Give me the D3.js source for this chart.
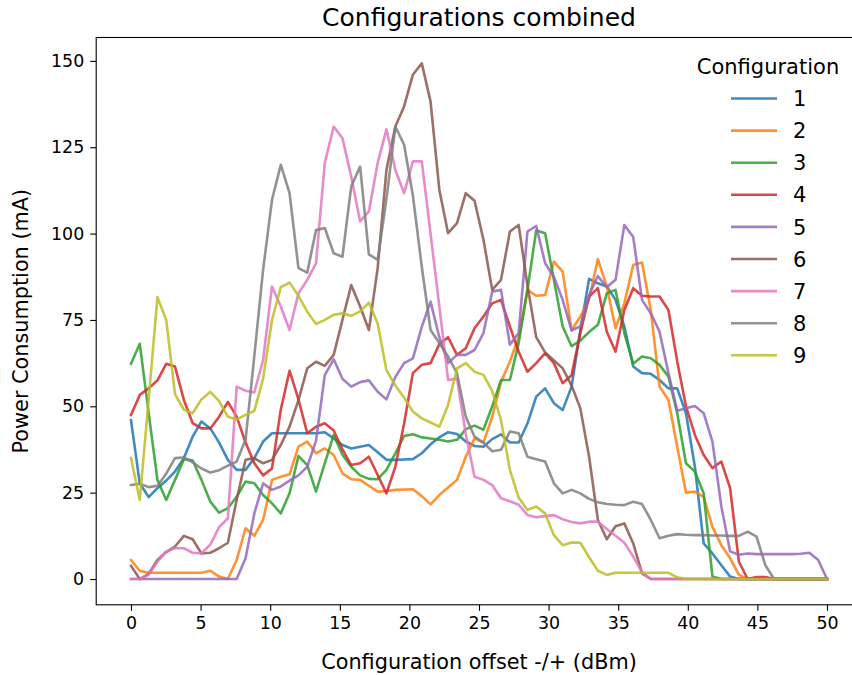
<!DOCTYPE html>
<html>
<head>
<meta charset="utf-8">
<script src="https://cdn.jsdelivr.net/npm/d3@7"></script>
<style>
  html, body { margin: 0; padding: 0; background: #ffffff; }
  svg { display: block; font-family: "DejaVu Sans", sans-serif; }
</style>
</head>
<body>
<svg id="chart" width="852" height="675"></svg>
<script>
// Offsets (dBm) at which each configuration was measured
const offsets = [0, 0.63, 1.27, 1.90, 2.53, 3.16, 3.80, 4.43, 5.06, 5.70, 6.33, 6.96, 7.59, 8.23, 8.86, 9.49,
  10.13, 10.76, 11.39, 12.03, 12.66, 13.29, 13.92, 14.56, 15.19, 15.82, 16.46, 17.09, 17.72, 18.35, 18.99, 19.62,
  20.25, 20.89, 21.52, 22.15, 22.78, 23.42, 24.05, 24.68, 25.32, 25.95, 26.58, 27.22, 27.85, 28.48, 29.11, 29.75,
  30.38, 31.01, 31.65, 32.28, 32.91, 33.54, 34.18, 34.81, 35.44, 36.08, 36.71, 37.34, 37.97, 38.61, 39.24, 39.87,
  40.51, 41.14, 41.77, 42.41, 43.04, 43.67, 44.30, 44.94, 45.57, 46.20, 46.84, 47.47, 48.10, 48.73, 49.37, 50.00];

// Power consumption (mA) per configuration
const config1 = [46, 27.7, 23.7, 26.3, 28.5, 31.1, 35, 41.2, 45.6, 43.6, 39.5, 34.5, 31.6, 31.6, 35, 39.8,
  42.2, 42.2, 42.2, 42.2, 42.2, 42.2, 42.5, 40.7, 38.8, 37.8, 38.3, 38.8, 36.7, 34.5, 34.5, 34.6,
  34.7, 36.4, 39, 41, 42.5, 42, 39.8, 38.5, 38.3, 40.5, 41.9, 39.5, 39.5, 45, 52.8, 55.2,
  50.9, 48.9, 55.7, 72, 86.9, 85.6, 84.7, 80.8, 73.1, 61.5, 59.6, 59.4, 57.6, 55.2, 55.2, 48,
  32.5, 10.3, 7.4, 4, 0.7, 0, 0, 0, 0, 0, 0, 0, 0, 0, 0, 0];
const config2 = [5.5, 2.4, 1.8, 1.8, 1.8, 1.8, 1.8, 1.8, 1.8, 2.4, 0.7, 0, 5.5, 14.7, 12.5, 17.1,
  28.7, 29.6, 30.3, 38.3, 39.8, 36.4, 37.8, 35.9, 30.6, 28.9, 28.7, 27, 25.3, 25.5, 25.8, 25.9,
  26, 24, 21.6, 24.3, 26.5, 28.7, 35.4, 40.7, 39.5, 47, 57, 63, 70, 83.7, 82, 82.2,
  91.9, 89, 72, 76, 81, 92.6, 84.7, 72.6, 79.8, 90.9, 91.6, 77.9, 55.7, 51.8, 38.3, 25,
  25.3, 23.8, 15.1, 9.8, 6, 1.2, 0, 0, 0, 0, 0, 0, 0, 0, 0, 0];
const config3 = [62.3, 68.1, 48, 28.7, 22.9, 28.7, 34.7, 34.3, 28.7, 22.4, 19.2, 20.5, 23.8, 28.2, 27.7, 24.3,
  21.9, 19, 24.8, 35.6, 33, 25.3, 33.5, 41.7, 36, 32.5, 30, 29, 28.9, 31.6, 36.4, 41.4,
  41.9, 41, 40.7, 40.3, 39.8, 40.3, 43.4, 44.4, 43.2, 50, 57.6, 57.6, 68.3, 83.7, 100.9, 100.1,
  86.6, 73.1, 67.4, 69, 71.5, 73.6, 82.7, 83.7, 71.2, 62.3, 64.4, 63.9, 62, 58.6, 48, 33.5,
  31.1, 24.8, 0.7, 0, 0, 0, 0, 0, 0, 0, 0, 0, 0, 0, 0, 0];
const config4 = [47.5, 53.3, 55.2, 57.5, 62.3, 61.5, 51.8, 45.1, 43.6, 43.6, 47, 51.3, 47, 39.5, 33.5, 30,
  32, 49, 60.3, 52, 42.2, 44.1, 45.1, 43, 37.5, 33, 33.5, 35.4, 30.1, 24.8, 32.5, 45,
  59.6, 62, 62.5, 68, 70, 64.9, 66.8, 72.6, 76, 79.8, 80.8, 73.1, 65.8, 60, 62.5, 65.4,
  62.5, 56.7, 59, 71.2, 81.8, 84.2, 71.6, 65.8, 77.9, 84.2, 82, 81.8, 81.8, 77.9, 63, 50,
  41.7, 35.9, 32.1, 34, 26.3, 5, 0, 0.6, 0.6, 0, 0, 0, 0, 0, 0, 0];
const config5 = [0, 0, 0, 0, 0, 0, 0, 0, 0, 0, 0, 0, 0, 6, 19, 27.7,
  25.8, 26.8, 28.5, 30, 32.5, 40, 59, 63.6, 58, 55.7, 57, 57.5, 54.2, 52, 58.5, 62.5,
  63.9, 73, 80.3, 70, 62.5, 64.9, 64.9, 66.3, 71.2, 83.2, 83.7, 67.8, 71.2, 100.6, 102.2, 91.4,
  87.5, 80.8, 72, 73.1, 82.2, 87.7, 84.5, 86.6, 102.5, 99, 80.8, 76.9, 71.6, 59.6, 48.7, 49.4,
  50.1, 48, 39.8, 21, 8, 7, 7.4, 7.2, 7.2, 7.2, 7.2, 7.2, 7.3, 7.6, 5.5, 0];
const config6 = [3.8, 0, 1.5, 5.5, 7.8, 9.4, 12.5, 11.5, 7.4, 7.6, 8.9, 10.5, 22.9, 34.5, 35, 33.5,
  34.5, 38.8, 44.1, 51.8, 61, 62.9, 61.7, 64.9, 75, 85.1, 78.9, 72.1, 90, 118.4, 131, 136.8,
  146, 149.3, 138.2, 112.7, 100.1, 103, 111.7, 109.5, 98.2, 83.7, 86.6, 100.6, 102.5, 85, 70, 65.6,
  63.3, 61, 56, 49.4, 35.4, 17.1, 11.5, 15.3, 16.1, 10.3, 1.6, 0, 0, 0, 0, 0,
  0, 0, 0, 0, 0, 0, 0, 0, 0, 0, 0, 0, 0, 0, 0, 0];
const config7 = [0, 0, 1.2, 5, 8, 8.9, 8.9, 7.6, 7.4, 10, 15, 17.6, 55.7, 54.5, 54, 63.4,
  84.7, 78.9, 72.1, 82.7, 86.6, 91.4, 120.4, 131, 127.6, 116.5, 103.5, 106.4, 120.4, 130.2, 118.4, 111.7,
  120.9, 120.9, 100, 79, 57.6, 58, 42, 29.6, 28.7, 27.2, 23.4, 22.5, 21.5, 18.5, 17.9, 18.2,
  18.5, 17.3, 16.5, 16.1, 16.6, 16.6, 14.5, 12.5, 10.5, 6.5, 2, 0, 0, 0, 0, 0,
  0, 0, 0, 0, 0, 0, 0, 0, 0, 0, 0, 0, 0, 0, 0, 0];
const config8 = [27.2, 27.6, 26.6, 27, 30.5, 35, 35.2, 33.8, 32, 30.8, 31.5, 32.8, 34, 40.3, 64.6, 89.5,
  109.8, 119.9, 111.7, 90, 88.7, 101, 101.6, 94.3, 93.3, 113.6, 119.4, 94, 92.4, 110, 131, 125.7,
  111, 90.4, 72.1, 68.3, 64.4, 59.6, 47, 41.2, 39.5, 37, 37.4, 42.7, 42.2, 35.4, 34.7, 34,
  27.7, 24.8, 25.8, 24.8, 23.2, 22.2, 21.7, 21.5, 21.4, 22.4, 21.7, 17.1, 11.8, 12.5, 13, 12.8,
  12.7, 12.7, 12.6, 12.6, 12.5, 12.5, 13.7, 12.3, 4, 0, 0, 0, 0, 0, 0, 0];
const config9 = [35, 22.9, 52, 81.6, 75, 53.5, 49, 48, 52, 54.2, 51.5, 47, 46.2, 47.5, 48.7, 58,
  75, 84.5, 85.8, 82, 77.4, 73.8, 75, 76.5, 76.9, 76.2, 77.5, 80, 74, 60.5, 56, 52.5,
  48.5, 46.5, 45.3, 44.1, 50.4, 61, 62.5, 60, 59.1, 54.5, 46, 31.6, 23.5, 20, 21, 19,
  12.7, 9.8, 10.6, 10.5, 6.3, 2.4, 1.2, 1.8, 1.8, 1.8, 1.8, 1.8, 1.8, 1.8, 0.5, 0,
  0, 0, 0, 0, 0, 0, 0, 0, 0, 0, 0, 0, 0, 0, 0, 0];

const configNames = ["1", "2", "3", "4", "5", "6", "7", "8", "9"];
const configValues = [config1, config2, config3, config4, config5, config6, config7, config8, config9];
const configColors = ["#1f77b4", "#ff7f0e", "#2ca02c", "#d62728", "#9467bd",
                      "#8c564b", "#e377c2", "#7f7f7f", "#bcbd22"];

const xTicks = [0, 5, 10, 15, 20, 25, 30, 35, 40, 45, 50];
const yTicks = [0, 25, 50, 75, 100, 125, 150];

const chartTitle = "Configurations combined";
const xTitle = "Configuration offset -/+ (dBm)";
const yTitle = "Power Consumption (mA)";
const legendTitle = "Configuration";

// ---- layout ----
const svg = d3.select("#chart");
const plot = { left: 96.2, right: 861.8, top: 37.5, bottom: 604.8 };

const xMin = d3.min(offsets), xMax = d3.max(offsets);
const xPad = (xMax - xMin) * 0.05;
const allValues = configValues.flat();
const yMin = d3.min(allValues), yMax = d3.max(allValues);
const yPad = (yMax - yMin) * 0.05;

const x = d3.scaleLinear().domain([xMin - xPad, xMax + xPad]).range([plot.left, plot.right]);
const y = d3.scaleLinear().domain([yMin - yPad, yMax + yPad]).range([plot.bottom, plot.top]);

const tickFont = 17.4;
const labelFont = 20.8;
const titleFont = 25;
const legendFont = 21;

// ---- axes ----
const xAxis = svg.append("g")
  .attr("transform", `translate(0,${plot.bottom})`)
  .call(d3.axisBottom(x).tickValues(xTicks).tickFormat(d3.format("d")).tickSize(6).tickPadding(6));
const yAxis = svg.append("g")
  .attr("transform", `translate(${plot.left},0)`)
  .call(d3.axisLeft(y).tickValues(yTicks).tickFormat(d3.format("d")).tickSize(6).tickPadding(6));

[xAxis, yAxis].forEach(g => {
  g.select(".domain").remove();
  g.selectAll(".tick line").attr("stroke", "#000").attr("stroke-width", 1.1);
  g.selectAll(".tick text")
    .attr("fill", "#000")
    .attr("font-family", "DejaVu Sans, sans-serif")
    .attr("font-size", tickFont);
});

// ---- lines ----
const line = d3.line()
  .x((d, i) => x(offsets[i]))
  .y(d => y(d));

const lines = svg.append("g");
configValues.forEach((vals, k) => {
  lines.append("path")
    .datum(vals)
    .attr("d", line)
    .attr("fill", "none")
    .attr("stroke", configColors[k])
    .attr("stroke-opacity", 0.85)
    .attr("stroke-width", 2.6)
    .attr("stroke-linejoin", "round")
    .attr("stroke-linecap", "square");
});

// ---- frame ----
svg.append("rect")
  .attr("x", plot.left).attr("y", plot.top)
  .attr("width", plot.right - plot.left).attr("height", plot.bottom - plot.top)
  .attr("fill", "none").attr("stroke", "#000").attr("stroke-width", 1.1);

// ---- titles ----
svg.append("text")
  .attr("x", (plot.left + plot.right) / 2).attr("y", 26)
  .attr("text-anchor", "middle").attr("font-size", titleFont).attr("fill", "#000")
  .text(chartTitle);

svg.append("text")
  .attr("x", (plot.left + plot.right) / 2).attr("y", 668.5)
  .attr("text-anchor", "middle").attr("font-size", labelFont).attr("fill", "#000")
  .text(xTitle);

svg.append("text")
  .attr("transform", `translate(27.5,${(plot.top + plot.bottom) / 2}) rotate(-90)`)
  .attr("text-anchor", "middle").attr("font-size", labelFont).attr("fill", "#000")
  .text(yTitle);

// ---- legend ----
const legend = svg.append("g").attr("font-size", legendFont);
legend.append("text")
  .attr("x", 768).attr("y", 66 + 7.6)
  .attr("text-anchor", "middle").attr("fill", "#000")
  .text(legendTitle);

configNames.forEach((name, k) => {
  const ly = 98.5 + k * 32.1;
  legend.append("line")
    .attr("x1", 731).attr("x2", 777).attr("y1", ly).attr("y2", ly)
    .attr("stroke", configColors[k]).attr("stroke-opacity", 0.85).attr("stroke-width", 2.6);
  legend.append("text")
    .attr("x", 793).attr("y", ly + 7.6)
    .attr("fill", "#000")
    .text(name);
});
</script>
</body>
</html>
